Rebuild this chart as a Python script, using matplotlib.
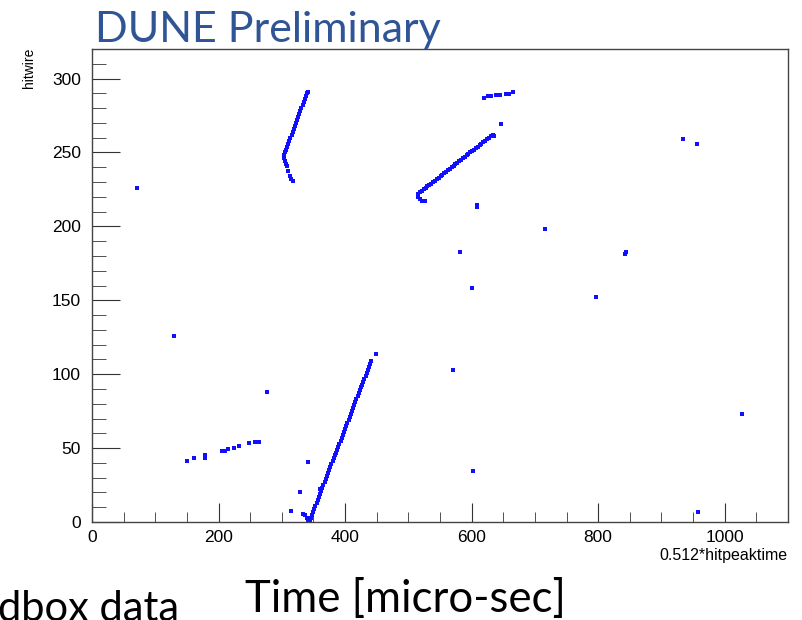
import numpy as np
import matplotlib
matplotlib.use('Agg')
import matplotlib.pyplot as plt
from matplotlib.ticker import MultipleLocator

#-----hit data (time, wire)----------------------------#
# long track going down to wire 0
trackA_t = [343.3, 344.2, 346.0, 347.8, 349.6, 351.4, 353.2, 355.0, 356.8, 358.6, 360.4,
            362.2, 364.0, 365.8, 367.6, 369.4, 371.2, 373.0, 374.8, 376.6, 378.4,
            380.2, 382.0, 383.8, 385.6, 387.4, 389.2, 391.0, 392.8, 394.6, 396.4,
            398.2, 400.0, 401.8, 403.6, 405.4, 407.2, 409.0, 410.8, 412.6, 414.4,
            416.2, 418.0, 419.8, 421.6, 423.4, 425.2, 427.0, 428.8, 430.6, 432.4,
            434.2, 436.0, 437.8, 439.6, 441.4, 333.8, 336.5, 339.2, 341.7]
trackA_w = [0, 1, 3, 5, 7, 9, 11, 13, 15, 17, 19,
            21, 23, 25, 27, 29, 31, 33, 35, 37, 39,
            41, 43, 45, 47, 49, 51, 53, 55, 57, 59,
            61, 63, 65, 67, 69, 71, 73, 75, 77, 79,
            81, 83, 85, 87, 89, 91, 93, 95, 97, 99,
            101, 103, 105, 107, 109, 5.4, 4.7, 2.5, 1.4]

# bent track near wire 250-290
trackB_t = [303.3, 305.0, 306.8, 308.5, 310.3, 312.0, 313.7, 315.5, 317.2, 319.0, 320.7,
            322.4, 324.2, 325.9, 327.7, 329.4, 331.1, 332.9, 334.6, 336.4, 338.1,
            339.8, 340.7, 303.8, 304.5, 306.0, 307.6, 310.0, 312.8, 314.5, 317.0]
trackB_w = [248, 250, 252, 254, 256, 258, 260, 262, 264, 266, 268,
            270, 272, 274, 276, 278, 280, 282, 284, 286, 288,
            290, 291, 246, 244, 242, 240.6, 237.5, 234.3, 232, 230.4]

# track from wire 222 to 262
trackC_t = [515.5, 518.4, 521.4, 524.3, 527.3, 530.2, 533.1, 536.1, 539.0, 542.0,
            544.9, 547.8, 550.8, 553.7, 556.7, 559.6, 562.5, 565.5, 568.4, 571.4,
            574.3, 577.2, 580.2, 583.1, 586.1, 589.0, 591.9, 594.9, 597.8, 600.8,
            603.7, 606.6, 609.6, 612.5, 615.5, 618.4, 621.3, 624.3, 627.2, 630.2,
            633.1, 635.0, 516.0, 518.0, 522.0, 526.0]
trackC_w = [222, 223, 224, 225, 226, 227, 228, 229, 230, 231,
            232, 233, 234, 235, 236, 237, 238, 239, 240, 241,
            242, 243, 244, 245, 246, 247, 248, 249, 250, 251,
            252, 253, 254, 255, 256, 257, 258, 259, 260, 261,
            262, 260.9, 220, 218.5, 217.5, 216.9]

# short group at the top
topGroup_t = [620, 626, 630, 638, 644.5, 655, 659, 665.5]
topGroup_w = [286.9, 288, 288.2, 288.6, 288.9, 289.8, 289.8, 291]

# low group on the left
lowGroup_t = [150.6, 161.6, 178, 178, 205.4, 209.6, 214.4, 224.3, 232.7, 248.5, 257, 264.3]
lowGroup_w = [41.1, 43.3, 45.6, 43.1, 48.3, 48.3, 49.2, 50.3, 51.5, 53.3, 54.4, 54.4]

# single hits
single_t = [71, 129, 276, 341.7, 328.6, 314.4, 360, 448.2, 582, 601, 570.8, 601.4,
            607.7, 609, 647, 716, 797, 843, 844, 934, 956, 1028, 958]
single_w = [226, 126, 88, 40.4, 20.5, 7.7, 22, 113.7, 183, 158, 102.9, 34.7,
            213, 214.5, 269.3, 198, 152, 181, 183, 259, 256, 73, 6.6]

hit_t = trackA_t + trackB_t + trackC_t + topGroup_t + lowGroup_t + single_t
hit_w = trackA_w + trackB_w + trackC_w + topGroup_w + lowGroup_w + single_w

#-----figure-------#
fig = plt.figure(figsize=(8.03, 6.2), dpi=100)
ax = fig.add_axes([92/803, 98/620, 696/803, 473/620])

ax.plot(hit_t, hit_w, linestyle='none', marker='s', markersize=2.2,
        markeredgewidth=0, color='#1010ff')

ax.set_xlim(0, 1100)
ax.set_ylim(0, 320)
ax.xaxis.set_major_locator(MultipleLocator(200))
ax.xaxis.set_minor_locator(MultipleLocator(50))
ax.yaxis.set_major_locator(MultipleLocator(50))
ax.yaxis.set_minor_locator(MultipleLocator(10))
ax.tick_params(which='both', direction='in', top=False, right=False, color='#333333')
ax.tick_params(axis='x', which='major', length=14, pad=6)
ax.tick_params(axis='x', which='minor', length=7)
ax.tick_params(axis='y', which='major', length=20, pad=8)
ax.tick_params(axis='y', which='minor', length=10)
for lab in ax.get_xticklabels() + ax.get_yticklabels():
    lab.set_fontfamily('Liberation Sans')
    lab.set_fontsize(12.5)
for sp in ax.spines.values():
    sp.set_color('#444444')
    sp.set_linewidth(1.0)

fig.text(29/803, 1 - 48/620, 'hitwire', rotation=90, ha='center', va='top',
         fontsize=10, family='Liberation Sans')
fig.text(788/803, 1 - 560/620, '0.512*hitpeaktime', ha='right', va='baseline',
         fontsize=11.5, family='Liberation Sans')

fig.text(95/803, 1 - 42/620, 'DUNE Preliminary', ha='left', va='baseline',
         fontsize=31, family='Lato', color='#2f5597')
fig.text(245/803, 1 - 612/620, 'Time [micro-sec]', ha='left', va='baseline',
         fontsize=31.5, family='Lato', color='black')
fig.text(-2/803, 1 - 621/620, 'dbox data', ha='left', va='baseline',
         fontsize=30, family='Lato', color='black')

fig.savefig('out.png', dpi=100)
